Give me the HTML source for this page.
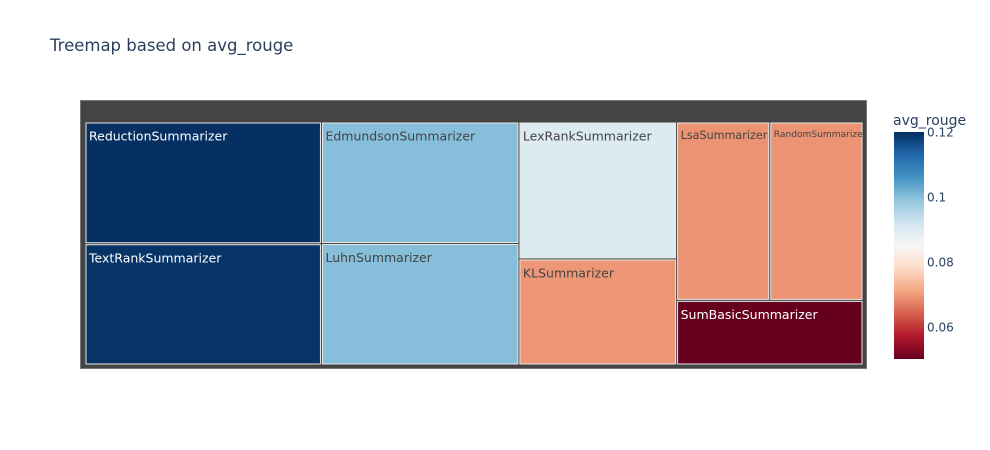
<!DOCTYPE html>
<html><head><meta charset="utf-8"><style>
html,body{margin:0;padding:0;background:#fff;}
svg{display:block;font-family:"DejaVu Sans","Liberation Sans",sans-serif;}
</style></head><body>
<svg id="chart" width="990" height="450" viewBox="0 0 990 450" xmlns="http://www.w3.org/2000/svg">
<defs>
<linearGradient id="rdbu" x1="0" y1="1" x2="0" y2="0">
<stop offset="0" stop-color="#67001f"/><stop offset="0.1" stop-color="#b2182b"/><stop offset="0.2" stop-color="#d6604d"/><stop offset="0.3" stop-color="#f4a582"/><stop offset="0.4" stop-color="#fddbc7"/><stop offset="0.5" stop-color="#f7f7f7"/><stop offset="0.6" stop-color="#d1e5f0"/><stop offset="0.7" stop-color="#92c5de"/><stop offset="0.8" stop-color="#4393c3"/><stop offset="0.9" stop-color="#2166ac"/><stop offset="1" stop-color="#053061"/>
</linearGradient>
</defs>
<text x="50" y="51" font-size="16.5" fill="#2a3f5f">Treemap based on avg_rouge</text>
<rect x="80.5" y="100.5" width="786" height="268" fill="#444" stroke="#777" stroke-width="1"/>
<g id="tiles"></g>
<rect x="894" y="132" width="30" height="227" fill="url(#rdbu)"/>
<text x="893" y="125" font-size="14" fill="#2a3f5f">avg_rouge</text>
<g id="cbticks"></g>
</svg>
<script>
const labels = ["ReductionSummarizer","TextRankSummarizer","EdmundsonSummarizer","LuhnSummarizer","LexRankSummarizer","KLSummarizer","LsaSummarizer","RandomSummarizer","SumBasicSummarizer"];
const values = [0.120,0.1195,0.100,0.100,0.090,0.0697,0.0693,0.0693,0.0502];
const tickValues = [0.06,0.08,0.1,0.12];
const tickLabels = ["0.06","0.08","0.1","0.12"];
const cmin = 0.0502, cmax = 0.120;

const stops = ["#67001f","#b2182b","#d6604d","#f4a582","#fddbc7","#f7f7f7","#d1e5f0","#92c5de","#4393c3","#2166ac","#053061"];
function hex(h){return [1,3,5].map(i=>parseInt(h.substr(i,2),16));}
function color(v){
  let t=Math.max(0,Math.min(1,(v-cmin)/(cmax-cmin)))*10;
  let i=Math.min(9,Math.floor(t)),f=t-i;
  const a=hex(stops[i]),b=hex(stops[i+1]);
  const c=a.map((x,k)=>Math.round(x+(b[k]-x)*f));
  return {css:`rgb(${c[0]},${c[1]},${c[2]})`,lum:(0.299*c[0]+0.587*c[1]+0.114*c[2])};
}
const X0=85,Y0=122,X1=863,Y1=365;
function squarify(vals,x0,y0,x1,y1){
  const out=[];let i=0,n=vals.length;
  let total=vals.reduce((a,b)=>a+b,0);
  while(i<n){
    const dx=x1-x0,dy=y1-y0;
    let sum=vals[i],minV=vals[i],maxV=vals[i],j=i+1;
    const alpha=Math.max(dy/dx,dx/dy)/(total);
    let beta=sum*sum*alpha;
    let minRatio=Math.max(maxV/beta,beta/minV);
    for(;j<n;j++){
      const v=vals[j];sum+=v;
      if(v<minV)minV=v;if(v>maxV)maxV=v;
      beta=sum*sum*alpha;
      const nr=Math.max(maxV/beta,beta/minV);
      if(nr>minRatio){sum-=v;break;}
      minRatio=nr;
    }
    const row=vals.slice(i,j);
    if(dx<dy){
      const h=dy*sum/total;let x=x0;
      row.forEach(v=>{const w=dx*v/sum;out.push([x,y0,x+w,y0+h]);x+=w;});
      y0+=h;
    }else{
      const w=dx*sum/total;let y=y0;
      row.forEach(v=>{const h=dy*v/sum;out.push([x0,y,x0+w,y+h]);y+=h;});
      x0+=w;
    }
    total-=sum;i=j;
  }
  return out;
}
const rects=squarify(values,X0,Y0,X1,Y1);
const g=document.getElementById('tiles');
const NS="http://www.w3.org/2000/svg";
rects.forEach((r,k)=>{
  const c=color(values[k]);
  const el=document.createElementNS(NS,'rect');
  
  
  el.setAttribute('x',r[0]+1);el.setAttribute('y',r[1]+1);
  el.setAttribute('width',Math.max(0,r[2]-r[0]-2));el.setAttribute('height',Math.max(0,r[3]-r[1]-2));
  el.setAttribute('fill',c.css);el.setAttribute('stroke','#e8e8e8');el.setAttribute('stroke-width','1');
  g.appendChild(el);
  const t=document.createElementNS(NS,'text');
  
  
  const w=r[2]-r[0]-6;
  let fs=12.5;
  const est=labels[k].length*fs*0.55;
  if(est>w)fs=Math.max(7,w/(labels[k].length*0.6));
  t.setAttribute('x',r[0]+4);t.setAttribute('y',r[1]+6+fs);
  t.setAttribute('font-size',fs.toFixed(2));
  t.setAttribute('fill',c.lum<140?'#fff':'#444');
  t.textContent=labels[k];
  g.appendChild(t);
});
const cb=document.getElementById('cbticks');
const cbTop=132,cbBot=359;
function cy(v){return cbBot-(v-cmin)/(cmax-cmin)*(cbBot-cbTop);}
tickValues.forEach((v,k)=>{
  const t=document.createElementNS(NS,'text');
  
  
  t.setAttribute('x',927);t.setAttribute('y',cy(v)+4.5);
  t.setAttribute('font-size','12');t.setAttribute('fill','#2a3f5f');
  t.textContent=tickLabels[k];
  cb.appendChild(t);
});
</script>
</body></html>
